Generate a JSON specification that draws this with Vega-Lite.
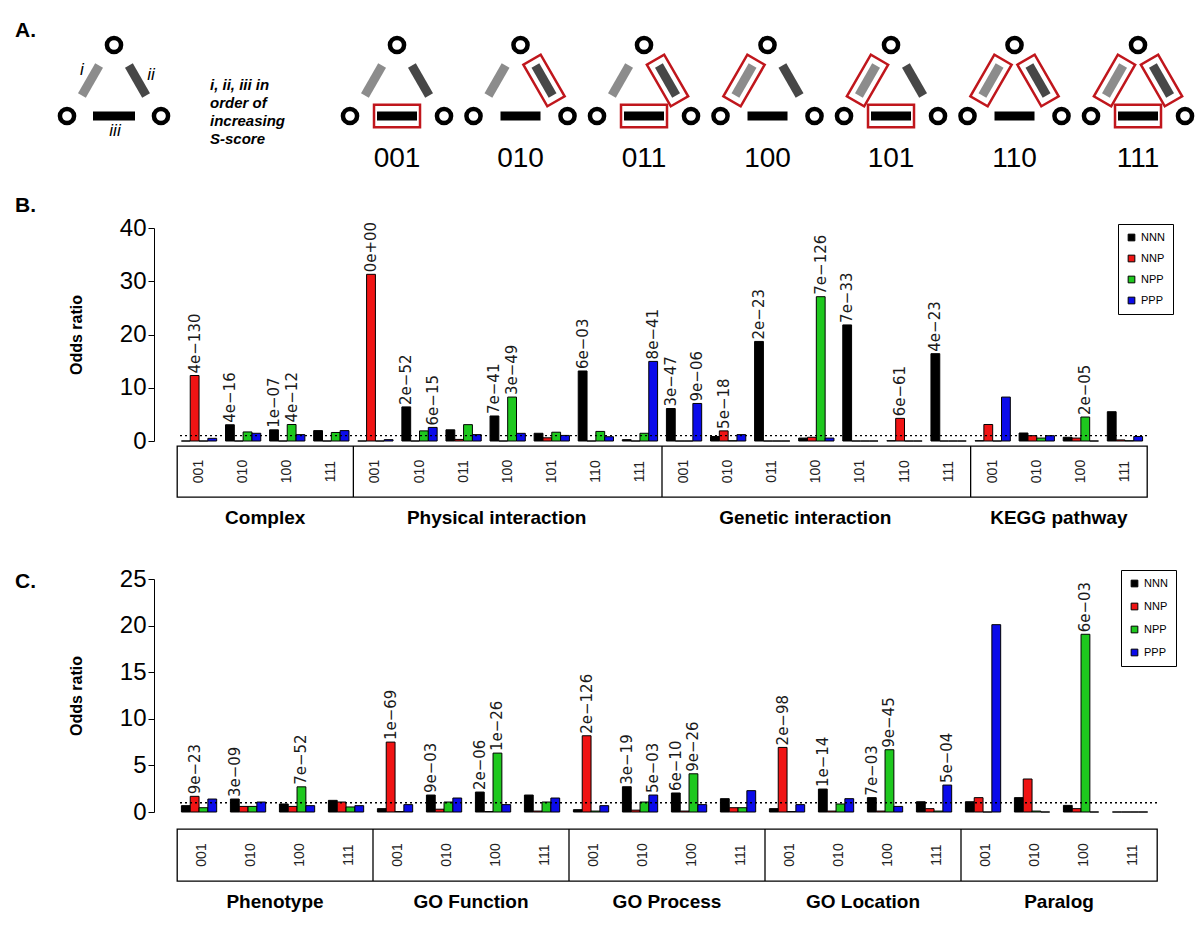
{
  "$schema": "https://vega.github.io/schema/vega-lite/v6.json",
  "padding": {"left": 15, "top": 19, "right": 0, "bottom": 0},
  "background": "white",
  "config": {
    "view": {"stroke": null},
    "font": "Liberation Sans",
    "axis": {"grid": false},
    "title": {"color": "black"}
  },
  "datasets": {
    "B": [
      {"g":"Complex|001","s":"NNN","v":0},{"g":"Complex|001","s":"NNP","v":12.3,"p":"4e−130"},{"g":"Complex|001","s":"NPP","v":0},{"g":"Complex|001","s":"PPP","v":0.5},
      {"g":"Complex|010","s":"NNN","v":3.05,"p":"4e−16"},{"g":"Complex|010","s":"NNP","v":0},{"g":"Complex|010","s":"NPP","v":1.7},{"g":"Complex|010","s":"PPP","v":1.45},
      {"g":"Complex|100","s":"NNN","v":2.1,"p":"1e−07"},{"g":"Complex|100","s":"NNP","v":0},{"g":"Complex|100","s":"NPP","v":3.1,"p":"4e−12"},{"g":"Complex|100","s":"PPP","v":1.2},
      {"g":"Complex|111","s":"NNN","v":1.95},{"g":"Complex|111","s":"NNP","v":0},{"g":"Complex|111","s":"NPP","v":1.6},{"g":"Complex|111","s":"PPP","v":1.95},
      {"g":"Physical interaction|001","s":"NNN","v":0},{"g":"Physical interaction|001","s":"NNP","v":31.3,"p":"0e+00"},{"g":"Physical interaction|001","s":"NPP","v":0},{"g":"Physical interaction|001","s":"PPP","v":0.25},
      {"g":"Physical interaction|010","s":"NNN","v":6.4,"p":"2e−52"},{"g":"Physical interaction|010","s":"NNP","v":0},{"g":"Physical interaction|010","s":"NPP","v":1.9},{"g":"Physical interaction|010","s":"PPP","v":2.55,"p":"6e−15"},
      {"g":"Physical interaction|011","s":"NNN","v":2.1},{"g":"Physical interaction|011","s":"NNP","v":0.3},{"g":"Physical interaction|011","s":"NPP","v":3.07},{"g":"Physical interaction|011","s":"PPP","v":1.2},
      {"g":"Physical interaction|100","s":"NNN","v":4.7,"p":"7e−41"},{"g":"Physical interaction|100","s":"NNP","v":0},{"g":"Physical interaction|100","s":"NPP","v":8.25,"p":"3e−49"},{"g":"Physical interaction|100","s":"PPP","v":1.44},
      {"g":"Physical interaction|101","s":"NNN","v":1.45},{"g":"Physical interaction|101","s":"NNP","v":0.6},{"g":"Physical interaction|101","s":"NPP","v":1.65},{"g":"Physical interaction|101","s":"PPP","v":1.05},
      {"g":"Physical interaction|110","s":"NNN","v":13.15,"p":"6e−03"},{"g":"Physical interaction|110","s":"NNP","v":0},{"g":"Physical interaction|110","s":"NPP","v":1.8},{"g":"Physical interaction|110","s":"PPP","v":0.8},
      {"g":"Physical interaction|111","s":"NNN","v":0.25},{"g":"Physical interaction|111","s":"NNP","v":0},{"g":"Physical interaction|111","s":"NPP","v":1.45},{"g":"Physical interaction|111","s":"PPP","v":14.95,"p":"8e−41"},
      {"g":"Genetic interaction|001","s":"NNN","v":6.1,"p":"3e−47"},{"g":"Genetic interaction|001","s":"NNP","v":0},{"g":"Genetic interaction|001","s":"NPP","v":0},{"g":"Genetic interaction|001","s":"PPP","v":7.05,"p":"9e−06"},
      {"g":"Genetic interaction|010","s":"NNN","v":0.85},{"g":"Genetic interaction|010","s":"NNP","v":1.9,"p":"5e−18"},{"g":"Genetic interaction|010","s":"NPP","v":0.05},{"g":"Genetic interaction|010","s":"PPP","v":1.2},
      {"g":"Genetic interaction|011","s":"NNN","v":18.7,"p":"2e−23"},{"g":"Genetic interaction|011","s":"NNP","v":0},{"g":"Genetic interaction|011","s":"NPP","v":0},{"g":"Genetic interaction|011","s":"PPP","v":0},
      {"g":"Genetic interaction|100","s":"NNN","v":0.55},{"g":"Genetic interaction|100","s":"NNP","v":0.7},{"g":"Genetic interaction|100","s":"NPP","v":27.1,"p":"7e−126"},{"g":"Genetic interaction|100","s":"PPP","v":0.55},
      {"g":"Genetic interaction|101","s":"NNN","v":21.8,"p":"7e−33"},{"g":"Genetic interaction|101","s":"NNP","v":0},{"g":"Genetic interaction|101","s":"NPP","v":0},{"g":"Genetic interaction|101","s":"PPP","v":0},
      {"g":"Genetic interaction|110","s":"NNN","v":0.05},{"g":"Genetic interaction|110","s":"NNP","v":4.25,"p":"6e−61"},{"g":"Genetic interaction|110","s":"NPP","v":0},{"g":"Genetic interaction|110","s":"PPP","v":0},
      {"g":"Genetic interaction|111","s":"NNN","v":16.4,"p":"4e−23"},{"g":"Genetic interaction|111","s":"NNP","v":0},{"g":"Genetic interaction|111","s":"NPP","v":0},{"g":"Genetic interaction|111","s":"PPP","v":0},
      {"g":"KEGG pathway|001","s":"NNN","v":0.05},{"g":"KEGG pathway|001","s":"NNP","v":3.1},{"g":"KEGG pathway|001","s":"NPP","v":0},{"g":"KEGG pathway|001","s":"PPP","v":8.25},
      {"g":"KEGG pathway|010","s":"NNN","v":1.5},{"g":"KEGG pathway|010","s":"NNP","v":1.0},{"g":"KEGG pathway|010","s":"NPP","v":0.55},{"g":"KEGG pathway|010","s":"PPP","v":1.0},
      {"g":"KEGG pathway|100","s":"NNN","v":0.7},{"g":"KEGG pathway|100","s":"NNP","v":0.55},{"g":"KEGG pathway|100","s":"NPP","v":4.5,"p":"2e−05"},{"g":"KEGG pathway|100","s":"PPP","v":0},
      {"g":"KEGG pathway|111","s":"NNN","v":5.5},{"g":"KEGG pathway|111","s":"NNP","v":0.2},{"g":"KEGG pathway|111","s":"NPP","v":0.05},{"g":"KEGG pathway|111","s":"PPP","v":0.85}
    ],
    "Bgrp": [
      {"g":"Complex|001","pat":"001"},{"g":"Complex|010","pat":"010"},{"g":"Complex|100","pat":"100"},{"g":"Complex|111","pat":"111"},
      {"g":"Physical interaction|001","pat":"001"},{"g":"Physical interaction|010","pat":"010"},{"g":"Physical interaction|011","pat":"011"},{"g":"Physical interaction|100","pat":"100"},{"g":"Physical interaction|101","pat":"101"},{"g":"Physical interaction|110","pat":"110"},{"g":"Physical interaction|111","pat":"111"},
      {"g":"Genetic interaction|001","pat":"001"},{"g":"Genetic interaction|010","pat":"010"},{"g":"Genetic interaction|011","pat":"011"},{"g":"Genetic interaction|100","pat":"100"},{"g":"Genetic interaction|101","pat":"101"},{"g":"Genetic interaction|110","pat":"110"},{"g":"Genetic interaction|111","pat":"111"},
      {"g":"KEGG pathway|001","pat":"001"},{"g":"KEGG pathway|010","pat":"010"},{"g":"KEGG pathway|100","pat":"100"},{"g":"KEGG pathway|111","pat":"111"}
    ],
    "Bdiv": [{"g":"Physical interaction|001"},{"g":"Genetic interaction|001"},{"g":"KEGG pathway|001"}],
    "Bsec": [
      {"g":"Complex|010","name":"Complex","even":true},
      {"g":"Physical interaction|100","name":"Physical interaction","even":false},
      {"g":"Genetic interaction|100","name":"Genetic interaction","even":false},
      {"g":"KEGG pathway|010","name":"KEGG pathway","even":true}
    ],
    "C": [
      {"g":"Phenotype|001","s":"NNN","v":0.68},{"g":"Phenotype|001","s":"NNP","v":1.68,"p":"9e−23"},{"g":"Phenotype|001","s":"NPP","v":0.46},{"g":"Phenotype|001","s":"PPP","v":1.39},
      {"g":"Phenotype|010","s":"NNN","v":1.39,"p":"3e−09"},{"g":"Phenotype|010","s":"NNP","v":0.6},{"g":"Phenotype|010","s":"NPP","v":0.6},{"g":"Phenotype|010","s":"PPP","v":1.07},
      {"g":"Phenotype|100","s":"NNN","v":0.86},{"g":"Phenotype|100","s":"NNP","v":0.6},{"g":"Phenotype|100","s":"NPP","v":2.7,"p":"7e−52"},{"g":"Phenotype|100","s":"PPP","v":0.68},
      {"g":"Phenotype|111","s":"NNN","v":1.25},{"g":"Phenotype|111","s":"NNP","v":1.07},{"g":"Phenotype|111","s":"NPP","v":0.54},{"g":"Phenotype|111","s":"PPP","v":0.68},
      {"g":"GO Function|001","s":"NNN","v":0.36},{"g":"GO Function|001","s":"NNP","v":7.5,"p":"1e−69"},{"g":"GO Function|001","s":"NPP","v":0.05},{"g":"GO Function|001","s":"PPP","v":0.79},
      {"g":"GO Function|010","s":"NNN","v":1.82,"p":"9e−03"},{"g":"GO Function|010","s":"NNP","v":0.3},{"g":"GO Function|010","s":"NPP","v":1.07},{"g":"GO Function|010","s":"PPP","v":1.5},
      {"g":"GO Function|100","s":"NNN","v":2.14,"p":"2e−06"},{"g":"GO Function|100","s":"NNP","v":0.05},{"g":"GO Function|100","s":"NPP","v":6.32,"p":"1e−26"},{"g":"GO Function|100","s":"PPP","v":0.79},
      {"g":"GO Function|111","s":"NNN","v":1.82},{"g":"GO Function|111","s":"NNP","v":0.1},{"g":"GO Function|111","s":"NPP","v":1.07},{"g":"GO Function|111","s":"PPP","v":1.5},
      {"g":"GO Process|001","s":"NNN","v":0.25},{"g":"GO Process|001","s":"NNP","v":8.18,"p":"2e−126"},{"g":"GO Process|001","s":"NPP","v":0.1},{"g":"GO Process|001","s":"PPP","v":0.68},
      {"g":"GO Process|010","s":"NNN","v":2.71,"p":"3e−19"},{"g":"GO Process|010","s":"NNP","v":0.2},{"g":"GO Process|010","s":"NPP","v":1.07},{"g":"GO Process|010","s":"PPP","v":1.82,"p":"5e−03"},
      {"g":"GO Process|100","s":"NNN","v":2.04,"p":"6e−10"},{"g":"GO Process|100","s":"NNP","v":0.1},{"g":"GO Process|100","s":"NPP","v":4.1,"p":"9e−26"},{"g":"GO Process|100","s":"PPP","v":0.79},
      {"g":"GO Process|111","s":"NNN","v":1.43},{"g":"GO Process|111","s":"NNP","v":0.46},{"g":"GO Process|111","s":"NPP","v":0.46},{"g":"GO Process|111","s":"PPP","v":2.29},
      {"g":"GO Location|001","s":"NNN","v":0.36},{"g":"GO Location|001","s":"NNP","v":6.93,"p":"2e−98"},{"g":"GO Location|001","s":"NPP","v":0.05},{"g":"GO Location|001","s":"PPP","v":0.79},
      {"g":"GO Location|010","s":"NNN","v":2.46,"p":"1e−14"},{"g":"GO Location|010","s":"NNP","v":0.1},{"g":"GO Location|010","s":"NPP","v":0.86},{"g":"GO Location|010","s":"PPP","v":1.43},
      {"g":"GO Location|100","s":"NNN","v":1.54,"p":"7e−03"},{"g":"GO Location|100","s":"NNP","v":0.1},{"g":"GO Location|100","s":"NPP","v":6.68,"p":"9e−45"},{"g":"GO Location|100","s":"PPP","v":0.6},
      {"g":"GO Location|111","s":"NNN","v":1.1},{"g":"GO Location|111","s":"NNP","v":0.36},{"g":"GO Location|111","s":"NPP","v":0.1},{"g":"GO Location|111","s":"PPP","v":2.89,"p":"5e−04"},
      {"g":"Paralog|001","s":"NNN","v":1.1},{"g":"Paralog|001","s":"NNP","v":1.54},{"g":"Paralog|001","s":"NPP","v":0},{"g":"Paralog|001","s":"PPP","v":20.1},
      {"g":"Paralog|010","s":"NNN","v":1.54},{"g":"Paralog|010","s":"NNP","v":3.54},{"g":"Paralog|010","s":"NPP","v":0.1},{"g":"Paralog|010","s":"PPP","v":0},
      {"g":"Paralog|100","s":"NNN","v":0.71},{"g":"Paralog|100","s":"NNP","v":0.36},{"g":"Paralog|100","s":"NPP","v":19.07,"p":"6e−03"},{"g":"Paralog|100","s":"PPP","v":0},
      {"g":"Paralog|111","s":"NNN","v":0},{"g":"Paralog|111","s":"NNP","v":0},{"g":"Paralog|111","s":"NPP","v":0},{"g":"Paralog|111","s":"PPP","v":0}
    ],
    "Cgrp": [
      {"g":"Phenotype|001","pat":"001"},{"g":"Phenotype|010","pat":"010"},{"g":"Phenotype|100","pat":"100"},{"g":"Phenotype|111","pat":"111"},
      {"g":"GO Function|001","pat":"001"},{"g":"GO Function|010","pat":"010"},{"g":"GO Function|100","pat":"100"},{"g":"GO Function|111","pat":"111"},
      {"g":"GO Process|001","pat":"001"},{"g":"GO Process|010","pat":"010"},{"g":"GO Process|100","pat":"100"},{"g":"GO Process|111","pat":"111"},
      {"g":"GO Location|001","pat":"001"},{"g":"GO Location|010","pat":"010"},{"g":"GO Location|100","pat":"100"},{"g":"GO Location|111","pat":"111"},
      {"g":"Paralog|001","pat":"001"},{"g":"Paralog|010","pat":"010"},{"g":"Paralog|100","pat":"100"},{"g":"Paralog|111","pat":"111"}
    ],
    "Cdiv": [{"g":"GO Function|001"},{"g":"GO Process|001"},{"g":"GO Location|001"},{"g":"Paralog|001"}],
    "Csec": [
      {"g":"Phenotype|010","name":"Phenotype"},
      {"g":"GO Function|010","name":"GO Function"},
      {"g":"GO Process|010","name":"GO Process"},
      {"g":"GO Location|010","name":"GO Location"},
      {"g":"Paralog|010","name":"Paralog"}
    ],
    "Anodes": [
      {"m":"key","role":"L","row":"bot"},{"m":"key","role":"T","row":"top"},{"m":"key","role":"R","row":"bot"},
      {"m":"001","role":"L","row":"bot"},{"m":"001","role":"T","row":"top"},{"m":"001","role":"R","row":"bot"},
      {"m":"010","role":"L","row":"bot"},{"m":"010","role":"T","row":"top"},{"m":"010","role":"R","row":"bot"},
      {"m":"011","role":"L","row":"bot"},{"m":"011","role":"T","row":"top"},{"m":"011","role":"R","row":"bot"},
      {"m":"100","role":"L","row":"bot"},{"m":"100","role":"T","row":"top"},{"m":"100","role":"R","row":"bot"},
      {"m":"101","role":"L","row":"bot"},{"m":"101","role":"T","row":"top"},{"m":"101","role":"R","row":"bot"},
      {"m":"110","role":"L","row":"bot"},{"m":"110","role":"T","row":"top"},{"m":"110","role":"R","row":"bot"},
      {"m":"111","role":"L","row":"bot"},{"m":"111","role":"T","row":"top"},{"m":"111","role":"R","row":"bot"}
    ],
    "Aedges": [
      {"m":"key","e":"i","role":"i","row":"mid"},{"m":"key","e":"ii","role":"ii","row":"mid"},{"m":"key","e":"iii","role":"T","row":"bot"},
      {"m":"001","e":"i","role":"i","row":"mid"},{"m":"001","e":"ii","role":"ii","row":"mid"},{"m":"001","e":"iii","role":"T","row":"bot"},
      {"m":"010","e":"i","role":"i","row":"mid"},{"m":"010","e":"ii","role":"ii","row":"mid"},{"m":"010","e":"iii","role":"T","row":"bot"},
      {"m":"011","e":"i","role":"i","row":"mid"},{"m":"011","e":"ii","role":"ii","row":"mid"},{"m":"011","e":"iii","role":"T","row":"bot"},
      {"m":"100","e":"i","role":"i","row":"mid"},{"m":"100","e":"ii","role":"ii","row":"mid"},{"m":"100","e":"iii","role":"T","row":"bot"},
      {"m":"101","e":"i","role":"i","row":"mid"},{"m":"101","e":"ii","role":"ii","row":"mid"},{"m":"101","e":"iii","role":"T","row":"bot"},
      {"m":"110","e":"i","role":"i","row":"mid"},{"m":"110","e":"ii","role":"ii","row":"mid"},{"m":"110","e":"iii","role":"T","row":"bot"},
      {"m":"111","e":"i","role":"i","row":"mid"},{"m":"111","e":"ii","role":"ii","row":"mid"},{"m":"111","e":"iii","role":"T","row":"bot"}
    ],
    "Ahl": [
      {"m":"001","h":"iii","role":"T","row":"bot"},
      {"m":"010","h":"ii","role":"ii","row":"mid"},
      {"m":"011","h":"ii","role":"ii","row":"mid"},{"m":"011","h":"iii","role":"T","row":"bot"},
      {"m":"100","h":"i","role":"i","row":"mid"},
      {"m":"101","h":"i","role":"i","row":"mid"},{"m":"101","h":"iii","role":"T","row":"bot"},
      {"m":"110","h":"i","role":"i","row":"mid"},{"m":"110","h":"ii","role":"ii","row":"mid"},
      {"m":"111","h":"i","role":"i","row":"mid"},{"m":"111","h":"ii","role":"ii","row":"mid"},{"m":"111","h":"iii","role":"T","row":"bot"}
    ],
    "Alab": [{"m":"001"},{"m":"010"},{"m":"011"},{"m":"100"},{"m":"101"},{"m":"110"},{"m":"111"}],
    "Akey": [{"lab":"i"},{"lab":"ii"},{"lab":"iii"}],
    "Atext": [{"t":"i, ii, iii in\norder of\nincreasing\nS-score"}]
  },
  "align": "none",
  "spacing": 37,
  "resolve": {"scale": {"x": "independent", "y": "independent", "color": "independent"}, "legend": {"color": "independent"}},
  "vconcat": [
    {
      "align": "none",
      "spacing": 22,
      "resolve": {"scale": {"x": "independent", "y": "independent", "color": "independent"}, "legend": {"color": "independent"}},
      "vconcat": [
        {
          "spacing": 0,
          "resolve": {"scale": {"x": "independent", "y": "independent", "xOffset": "independent", "color": "independent", "shape": "independent"}},
          "hconcat": [
            {
              "width": 138,
              "height": 71,
              "title": {"text": "A.", "anchor": "start", "frame": "group", "dx": -162, "fontSize": 21, "fontWeight": "bold", "offset": -12},
              "layer": [
                {
                  "data": {"name": "Aedges"},
                  "transform": [{"filter": "datum.m == 'key'"}],
                  "mark": {"type": "point", "filled": true, "opacity": 1, "size": 1600, "strokeWidth": 0},
                  "encoding": {
                    "x": {"field": "m", "type": "nominal", "axis": null, "scale": {"domain": ["key"], "range": [-110, -16], "paddingInner": 0, "paddingOuter": 0}},
                    "xOffset": {"field": "role", "type": "nominal", "scale": {"type": "point", "domain": ["L","i","T","ii","R"], "padding": 0}},
                    "y": {"field": "row", "type": "nominal", "axis": null, "scale": {"type": "point", "domain": ["top","mid","bot"], "padding": 0}},
                    "color": {"field": "e", "type": "nominal", "scale": {"domain": ["i","ii","iii"], "range": ["#8c8c8c","#474747","#000000"]}, "legend": null},
                    "shape": {"field": "e", "type": "nominal", "scale": {"domain": ["i","ii","iii"], "range": ["M 0.6249 -0.6323 L 0.2351 -0.8573 L -0.6249 0.6323 L -0.2351 0.8573 Z", "M 0.2351 0.8573 L 0.6249 0.6323 L -0.2351 -0.8573 L -0.6249 -0.6323 Z", "M -1.05 -0.225 L 1.05 -0.225 L 1.05 0.225 L -1.05 0.225 Z"]}, "legend": null}
                  }
                },
                {
                  "data": {"name": "Anodes"},
                  "transform": [{"filter": "datum.m == 'key'"}],
                  "mark": {"type": "point", "shape": "circle", "filled": true, "fill": "white", "stroke": "black", "strokeWidth": 4.5, "size": 200, "opacity": 1},
                  "encoding": {
                    "x": {"field": "m", "type": "nominal"},
                    "xOffset": {"field": "role", "type": "nominal"},
                    "y": {"field": "row", "type": "nominal"}
                  }
                },
                {
                  "data": {"name": "Akey"},
                  "transform": [{"filter": "datum.lab == 'i'"}],
                  "mark": {"type": "text", "fontSize": 17, "fontStyle": "italic", "baseline": "middle", "align": "center", "dx": -32, "dy": -11, "color": "black"},
                  "encoding": {"x": {"datum": "key"}, "y": {"datum": "mid"}, "text": {"field": "lab"}}
                },
                {
                  "data": {"name": "Akey"},
                  "transform": [{"filter": "datum.lab == 'ii'"}],
                  "mark": {"type": "text", "fontSize": 17, "fontStyle": "italic", "baseline": "middle", "align": "center", "dx": 37, "dy": -6, "color": "black"},
                  "encoding": {"x": {"datum": "key"}, "y": {"datum": "mid"}, "text": {"field": "lab"}}
                },
                {
                  "data": {"name": "Akey"},
                  "transform": [{"filter": "datum.lab == 'iii'"}],
                  "mark": {"type": "text", "fontSize": 17, "fontStyle": "italic", "baseline": "middle", "align": "center", "dx": 1, "dy": 15, "color": "black"},
                  "encoding": {"x": {"datum": "key"}, "y": {"datum": "bot"}, "text": {"field": "lab"}}
                },
                {
                  "data": {"name": "Atext"},
                  "mark": {"type": "text", "fontSize": 15, "fontStyle": "italic", "fontWeight": "bold", "align": "left", "baseline": "middle", "lineBreak": "\n", "lineHeight": 18, "dx": 96, "dy": 4, "color": "black"},
                  "encoding": {"x": {"datum": "key"}, "y": {"datum": "mid"}, "text": {"field": "t"}}
                }
              ]
            },
            {
              "width": 880,
              "height": 71,
              "resolve": {"scale": {"shape": "independent"}},
              "layer": [
                {
                  "data": {"name": "Aedges"},
                  "transform": [{"filter": "datum.m != 'key'"}],
                  "mark": {"type": "point", "filled": true, "opacity": 1, "size": 1600, "strokeWidth": 0},
                  "encoding": {
                    "x": {"field": "m", "type": "nominal", "axis": null, "scale": {"domain": ["001","010","011","100","101","110","111"], "paddingInner": 0.2389, "paddingOuter": 0.1822, "align": 0.778}},
                    "xOffset": {"field": "role", "type": "nominal", "scale": {"type": "point", "domain": ["L","i","T","ii","R"], "padding": 0}},
                    "y": {"field": "row", "type": "nominal", "axis": null, "scale": {"type": "point", "domain": ["top","mid","bot"], "padding": 0}},
                    "color": {"field": "e", "type": "nominal", "scale": {"domain": ["i","ii","iii"], "range": ["#8c8c8c","#474747","#000000"]}, "legend": null},
                    "shape": {"field": "e", "type": "nominal", "scale": {"domain": ["i","ii","iii"], "range": ["M 0.6249 -0.6323 L 0.2351 -0.8573 L -0.6249 0.6323 L -0.2351 0.8573 Z", "M 0.2351 0.8573 L 0.6249 0.6323 L -0.2351 -0.8573 L -0.6249 -0.6323 Z", "M -1 -0.225 L 1 -0.225 L 1 0.225 L -1 0.225 Z"]}, "legend": null}
                  }
                },
                {
                  "data": {"name": "Ahl"},
                  "mark": {"type": "point", "filled": false, "opacity": 1, "size": 1600, "stroke": "#c0161c", "strokeWidth": 2.5},
                  "encoding": {
                    "x": {"field": "m", "type": "nominal"},
                    "xOffset": {"field": "role", "type": "nominal"},
                    "y": {"field": "row", "type": "nominal"},
                    "shape": {"field": "h", "type": "nominal", "scale": {"domain": ["i","ii","iii"], "range": ["M 1.033 -0.7892 L 0.167 -1.2892 L -1.033 0.7892 L -0.167 1.2892 Z", "M 0.167 1.2892 L 1.033 0.7892 L -0.167 -1.2892 L -1.033 -0.7892 Z", "M -1.15 -0.56 L 1.15 -0.56 L 1.15 0.56 L -1.15 0.56 Z"]}, "legend": null}
                  }
                },
                {
                  "data": {"name": "Anodes"},
                  "transform": [{"filter": "datum.m != 'key'"}],
                  "mark": {"type": "point", "shape": "circle", "filled": true, "fill": "white", "stroke": "black", "strokeWidth": 4.5, "size": 200, "opacity": 1},
                  "encoding": {
                    "x": {"field": "m", "type": "nominal"},
                    "xOffset": {"field": "role", "type": "nominal"},
                    "y": {"field": "row", "type": "nominal"}
                  }
                },
                {
                  "data": {"name": "Alab"},
                  "mark": {"type": "text", "font": "Liberation Sans Narrow, Liberation Sans", "fontSize": 28, "baseline": "middle", "align": "center", "dy": 43, "color": "black"},
                  "encoding": {
                    "x": {"field": "m", "type": "nominal"},
                    "y": {"datum": "bot"},
                    "text": {"field": "m"}
                  }
                }
              ]
            }
          ]
        },
        {
          "spacing": 5,
          "bounds": "flush",
          "resolve": {"scale": {"x": "independent", "y": "independent"}},
          "vconcat": [
            {
              "width": 970,
              "height": 213,
              "title": {"text": "B.", "anchor": "start", "frame": "group", "dx": -162, "fontSize": 21, "fontWeight": "bold", "offset": 0},
              "layer": [
                {
                  "data": {"name": "B"},
                  "mark": {"type": "bar", "stroke": "black", "strokeWidth": 1},
                  "encoding": {
                    "x": {"field": "g", "type": "nominal", "axis": null, "scale": {"domain": ["Complex|001","Complex|010","Complex|100","Complex|111","Physical interaction|001","Physical interaction|010","Physical interaction|011","Physical interaction|100","Physical interaction|101","Physical interaction|110","Physical interaction|111","Genetic interaction|001","Genetic interaction|010","Genetic interaction|011","Genetic interaction|100","Genetic interaction|101","Genetic interaction|110","Genetic interaction|111","KEGG pathway|001","KEGG pathway|010","KEGG pathway|100","KEGG pathway|111"], "paddingInner": 0, "paddingOuter": 0}},
                    "xOffset": {"field": "s", "type": "nominal", "scale": {"domain": ["NNN","NNP","NPP","PPP"], "paddingInner": 0, "paddingOuter": 0.5}},
                    "y": {"field": "v", "type": "quantitative", "scale": {"domain": [0, 40], "nice": false}, "axis": {"values": [0, 10, 20, 30, 40], "offset": 23, "tickSize": 6, "labelFontSize": 24, "labelPadding": 2, "labelColor": "black", "domainColor": "black", "tickColor": "black", "title": "Odds ratio", "titleFontSize": 16, "titleFontWeight": "bold", "titlePadding": 35, "titleColor": "black"}},
                    "color": {"field": "s", "type": "nominal", "scale": {"domain": ["NNN","NNP","NPP","PPP"], "range": ["#000000","#f01414","#1ec81e","#0b0bea"]}, "legend": {"orient": "none", "legendX": 941, "legendY": -4, "title": null, "strokeColor": "black", "fillColor": "white", "padding": 8, "rowPadding": 9, "symbolType": "square", "symbolSize": 45, "symbolStrokeColor": "black", "symbolStrokeWidth": 1, "labelFontSize": 11, "labelOffset": 4, "labelColor": "black"}}
                  }
                },
                {
                  "data": {"values": [{}]},
                  "mark": {"type": "rule", "strokeDash": [2, 3], "strokeWidth": 1.4, "color": "black"},
                  "encoding": {"y": {"datum": 1, "type": "quantitative"}}
                },
                {
                  "data": {"name": "B"},
                  "transform": [{"filter": "isValid(datum.p)"}],
                  "mark": {"type": "text", "angle": 270, "align": "left", "baseline": "middle", "dx": 2, "font": "DejaVu Sans", "fontSize": 15, "color": "#1a1a1a"},
                  "encoding": {
                    "x": {"field": "g", "type": "nominal"},
                    "xOffset": {"field": "s", "type": "nominal"},
                    "y": {"field": "v", "type": "quantitative"},
                    "text": {"field": "p"}
                  }
                }
              ]
            },
            {
              "width": 970,
              "height": 51,
              "view": {"stroke": "black", "strokeWidth": 1.3},
              "layer": [
                {
                  "data": {"name": "Bgrp"},
                  "mark": {"type": "text", "angle": 270, "align": "center", "baseline": "middle", "fontSize": 14, "color": "#222222"},
                  "encoding": {
                    "x": {"field": "g", "type": "nominal", "axis": null, "scale": {"domain": ["Complex|001","Complex|010","Complex|100","Complex|111","Physical interaction|001","Physical interaction|010","Physical interaction|011","Physical interaction|100","Physical interaction|101","Physical interaction|110","Physical interaction|111","Genetic interaction|001","Genetic interaction|010","Genetic interaction|011","Genetic interaction|100","Genetic interaction|101","Genetic interaction|110","Genetic interaction|111","KEGG pathway|001","KEGG pathway|010","KEGG pathway|100","KEGG pathway|111"], "paddingInner": 0, "paddingOuter": 0}},
                    "y": {"datum": 0.5, "type": "quantitative", "scale": {"domain": [0, 1]}, "axis": null},
                    "text": {"field": "pat"}
                  }
                },
                {
                  "data": {"name": "Bdiv"},
                  "mark": {"type": "rule", "color": "black", "strokeWidth": 1.3},
                  "encoding": {"x": {"field": "g", "type": "nominal", "bandPosition": 0}}
                },
                {
                  "data": {"name": "Bsec"},
                  "transform": [{"filter": "datum.even"}],
                  "mark": {"type": "text", "fontSize": 19, "fontWeight": "bold", "baseline": "middle", "align": "center", "color": "black"},
                  "encoding": {
                    "x": {"field": "g", "type": "nominal", "bandPosition": 1},
                    "y": {"datum": -0.42, "type": "quantitative"},
                    "text": {"field": "name"}
                  }
                },
                {
                  "data": {"name": "Bsec"},
                  "transform": [{"filter": "!datum.even"}],
                  "mark": {"type": "text", "fontSize": 19, "fontWeight": "bold", "baseline": "middle", "align": "center", "color": "black"},
                  "encoding": {
                    "x": {"field": "g", "type": "nominal", "bandPosition": 0.25},
                    "y": {"datum": -0.42, "type": "quantitative"},
                    "text": {"field": "name"}
                  }
                }
              ]
            }
          ]
        }
      ]
    },
    {
      "spacing": 17,
      "bounds": "flush",
      "resolve": {"scale": {"x": "independent", "y": "independent"}},
      "vconcat": [
        {
          "width": 980,
          "height": 233,
          "title": {"text": "C.", "anchor": "start", "frame": "group", "dx": -162, "fontSize": 21, "fontWeight": "bold", "offset": -25},
          "layer": [
            {
              "data": {"name": "C"},
              "mark": {"type": "bar", "stroke": "black", "strokeWidth": 1},
              "encoding": {
                "x": {"field": "g", "type": "nominal", "axis": null, "scale": {"domain": ["Phenotype|001","Phenotype|010","Phenotype|100","Phenotype|111","GO Function|001","GO Function|010","GO Function|100","GO Function|111","GO Process|001","GO Process|010","GO Process|100","GO Process|111","GO Location|001","GO Location|010","GO Location|100","GO Location|111","Paralog|001","Paralog|010","Paralog|100","Paralog|111"], "paddingInner": 0, "paddingOuter": 0}},
                "xOffset": {"field": "s", "type": "nominal", "scale": {"domain": ["NNN","NNP","NPP","PPP"], "paddingInner": 0, "paddingOuter": 0.5}},
                "y": {"field": "v", "type": "quantitative", "scale": {"domain": [0, 25], "nice": false}, "axis": {"values": [0, 5, 10, 15, 20, 25], "offset": 23, "tickSize": 6, "labelFontSize": 24, "labelPadding": 2, "labelColor": "black", "domainColor": "black", "tickColor": "black", "title": "Odds ratio", "titleFontSize": 16, "titleFontWeight": "bold", "titlePadding": 35, "titleColor": "black"}},
                "color": {"field": "s", "type": "nominal", "scale": {"domain": ["NNN","NNP","NPP","PPP"], "range": ["#000000","#f01414","#1ec81e","#0b0bea"]}, "legend": {"orient": "none", "legendX": 944, "legendY": -9, "title": null, "strokeColor": "black", "fillColor": "white", "padding": 8, "rowPadding": 11, "symbolType": "square", "symbolSize": 45, "symbolStrokeColor": "black", "symbolStrokeWidth": 1, "labelFontSize": 11, "labelOffset": 4, "labelColor": "black"}}
              }
            },
            {
              "data": {"values": [{}]},
              "mark": {"type": "rule", "strokeDash": [2, 3], "strokeWidth": 1.4, "color": "black"},
              "encoding": {"y": {"datum": 1, "type": "quantitative"}}
            },
            {
              "data": {"name": "C"},
              "transform": [{"filter": "isValid(datum.p)"}],
              "mark": {"type": "text", "angle": 270, "align": "left", "baseline": "middle", "dx": 2, "font": "DejaVu Sans", "fontSize": 15, "color": "#1a1a1a"},
              "encoding": {
                "x": {"field": "g", "type": "nominal"},
                "xOffset": {"field": "s", "type": "nominal"},
                "y": {"field": "v", "type": "quantitative"},
                "text": {"field": "p"}
              }
            }
          ]
        },
        {
          "width": 980,
          "height": 52,
          "view": {"stroke": "black", "strokeWidth": 1.3},
          "layer": [
            {
              "data": {"name": "Cgrp"},
              "mark": {"type": "text", "angle": 270, "align": "center", "baseline": "middle", "fontSize": 14, "color": "#222222"},
              "encoding": {
                "x": {"field": "g", "type": "nominal", "axis": null, "scale": {"domain": ["Phenotype|001","Phenotype|010","Phenotype|100","Phenotype|111","GO Function|001","GO Function|010","GO Function|100","GO Function|111","GO Process|001","GO Process|010","GO Process|100","GO Process|111","GO Location|001","GO Location|010","GO Location|100","GO Location|111","Paralog|001","Paralog|010","Paralog|100","Paralog|111"], "paddingInner": 0, "paddingOuter": 0}},
                "y": {"datum": 0.5, "type": "quantitative", "scale": {"domain": [0, 1]}, "axis": null},
                "text": {"field": "pat"}
              }
            },
            {
              "data": {"name": "Cdiv"},
              "mark": {"type": "rule", "color": "black", "strokeWidth": 1.3},
              "encoding": {"x": {"field": "g", "type": "nominal", "bandPosition": 0}}
            },
            {
              "data": {"name": "Csec"},
              "mark": {"type": "text", "fontSize": 19, "fontWeight": "bold", "baseline": "middle", "align": "center", "color": "black"},
              "encoding": {
                "x": {"field": "g", "type": "nominal", "bandPosition": 1},
                "y": {"datum": -0.40, "type": "quantitative"},
                "text": {"field": "name"}
              }
            }
          ]
        }
      ]
    }
  ]
}
